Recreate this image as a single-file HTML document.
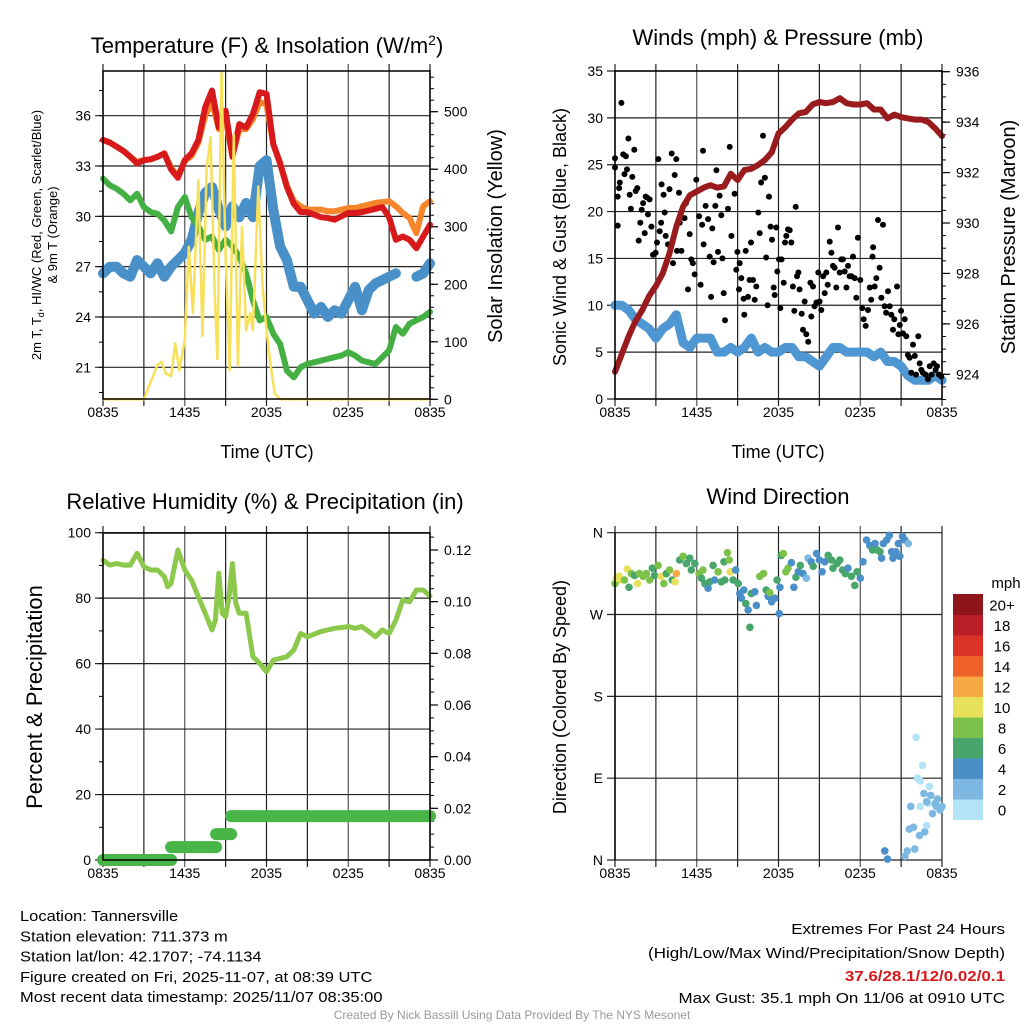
<!DOCTYPE html>
<html><head><meta charset="utf-8"><title>Tannersville Meteogram</title>
<style>
html,body{margin:0;padding:0;background:#fff;}
svg{display:block;font-family:"Liberation Sans",sans-serif;}
</style></head>
<body>
<svg id="chart" xmlns="http://www.w3.org/2000/svg" width="1024" height="1024" viewBox="0 0 1024 1024">
<rect x="0" y="0" width="1024" height="1024" fill="#fff"/>
</svg>
<script>
// ---------- DATA ----------
const xTickLabels = ['0835','1435','2035','0235','0835'];
const xTickHours = [0,6,12,18,24];
const halfHours = [0,0.5,1,1.5,2,2.5,3,3.5,4,4.5,5,5.5,6,6.5,7,7.5,8,8.5,9,9.5,10,10.5,11,11.5,12,12.5,13,13.5,14,14.5,15,15.5,16,16.5,17,17.5,18,18.5,19,19.5,20,20.5,21,21.5,22,22.5,23,23.5,24];
const tempRed = [34.55,34.4,34.15,33.9,33.55,33.15,33.35,33.4,33.55,33.75,32.8,32.3,33.35,33.75,34.55,36.5,37.5,35.3,36.3,33.55,35.5,35.3,36.1,37.4,37.3,34.3,33.15,31.75,30.75,30.25,30.25,30.1,29.95,29.9,29.8,30.0,30.2,30.2,30.25,30.35,30.45,30.55,29.95,28.6,28.8,28.6,28.1,28.8,29.5];
const tempOrange = [34.55,34.4,34.15,33.9,33.55,33.25,33.35,33.4,33.55,33.75,32.9,32.4,33.3,33.6,34.4,36.0,36.8,35.2,35.8,33.6,35.2,35.2,35.8,36.8,36.7,34.3,33.2,31.8,30.9,30.6,30.4,30.4,30.4,30.3,30.3,30.4,30.5,30.5,30.6,30.7,30.8,30.85,30.9,30.6,30.2,29.9,29.0,30.6,30.9];
const tempGreen = [32.25,31.85,31.65,31.35,30.95,31.35,30.55,30.25,30.15,29.75,29.1,30.55,31.15,29.95,29.4,28.6,28.8,28.0,28.6,28.2,27.6,26.6,25.0,23.8,24.0,23.0,22.4,20.8,20.4,21.0,21.2,21.3,21.4,21.5,21.6,21.7,21.9,21.7,21.4,21.3,21.2,21.6,22.0,23.4,23.0,23.6,23.8,24.0,24.3];
const tempBlue = [26.6,27.0,27.0,26.6,26.4,27.4,27.0,26.6,27.2,26.4,27.0,27.4,27.8,28.6,30.2,31.4,31.75,30.4,29.4,30.6,29.95,30.8,29.95,33.0,33.35,30.4,28.2,27.4,25.8,25.8,25.0,24.2,24.6,24.0,24.4,24.2,25.0,25.8,24.4,25.6,26.0,26.2,26.4,26.6,null,null,26.4,26.6,27.2];
const solarHours = [0,3,3.5,4,4.3,4.6,5,5.3,5.6,6,6.3,6.6,7,7.3,7.6,7.9,8.2,8.4,8.7,9,9.3,9.6,9.9,10.2,10.5,10.8,11,11.4,11.7,12,12.3,12.6,13,24];
const solarVals = [0,0,30,60,65,45,40,97,50,103,265,150,381,110,400,456,184,70,569,250,50,460,60,300,120,150,120,370,200,120,60,10,0,0];
const windSustained = [10,10,9.5,8.5,8,7.5,6.5,7.5,8,9,6,5.5,6.5,6.5,6.5,5,5,5.5,5,5.5,6.5,5,5.5,5,5,5.5,5.5,4.5,4.5,4,3.5,4.5,5.5,5.5,5,5,5,5,4.5,5,4,4,3.5,2.5,2,2,2,2.5,2];
const pressure = [924.1,924.8,925.5,926.1,926.55,927.1,927.5,928.0,928.8,929.85,930.65,931.1,931.25,931.4,931.5,931.4,931.45,931.95,931.7,932.1,932.15,932.3,932.5,932.8,933.55,933.8,934.1,934.35,934.4,934.7,934.8,934.75,934.8,934.95,934.75,934.7,934.7,934.75,934.5,934.5,934.15,934.3,934.2,934.15,934.1,934.1,934.0,933.75,933.45];
const gustHours = [0,0,0.2,0.3,0.35,0.2,0.47,0.6,0.8,0.7,0.88,0.98,1.08,1.17,1.27,1.42,1.52,1.64,1.74,1.86,1.96,2.06,2.18,2.25,2.35,2.42,2.54,2.67,2.79,2.98,3.08,3.18,3.28,3.38,3.42,3.57,3.65,3.72,3.89,4.0,4.16,4.26,4.38,4.5,4.55,4.7,4.75,4.87,5.1,5.2,5.36,5.48,5.6,5.72,5.85,5.97,6.17,6.28,6.39,6.46,6.5,6.65,6.83,6.95,7.05,7.14,7.24,7.36,7.44,7.56,7.68,7.8,7.88,7.98,8.07,8.29,8.42,8.54,8.78,8.9,8.98,9.1,9.15,9.27,9.44,9.49,9.59,9.76,9.88,9.98,10.13,10.25,10.37,10.52,10.62,10.72,10.86,11.0,11.1,11.2,11.3,11.42,11.52,11.65,11.72,11.84,11.91,12.04,12.13,12.23,12.38,12.48,12.57,12.7,12.82,12.94,13.06,13.16,13.26,13.36,13.46,13.55,13.7,13.8,13.92,14.04,14.18,14.34,14.41,14.53,14.65,14.78,14.92,15.02,15.14,15.27,15.39,15.51,15.61,15.76,15.88,16.0,16.12,16.24,16.37,16.49,16.6,16.73,16.86,16.98,17.1,17.22,17.35,17.47,17.59,17.71,17.83,18.0,18.15,18.25,18.4,18.57,18.7,18.8,18.9,18.94,19.06,19.18,19.3,19.42,19.55,19.67,19.79,19.9,20.04,20.16,20.28,20.4,20.5,20.7,20.8,20.9,21.0,21.14,21.26,21.38,21.5,21.63,21.75,21.87,22.0,22.1,22.26,22.36,22.48,22.6,22.8,22.97,23.1,23.24,23.39,23.53,23.63,23.78,23.95];
const gustVals = [24.7,25.7,18.5,22.5,23.1,21.6,31.6,26.1,25.9,24,24.5,27.8,21.8,20.3,23.7,26.6,22.2,22.5,16.9,18.8,20.2,20.9,17.7,21.6,21.5,19.7,21.3,18.4,15.4,15.6,16.7,25.6,17.9,18.8,22.9,21.8,19.9,17.4,16.5,22.4,26.2,14.5,23.9,25.6,15.8,22,18.8,15.8,19.3,20.9,11.7,17.6,14.9,14.5,13.3,23.4,19.5,12.2,18.6,26.5,16.5,20.6,19.2,15.2,10.9,18.2,14.6,20.6,24.4,15.7,21.7,19.6,15,11.3,8.4,20.3,26.9,17.4,21.9,13.8,15.7,11.7,14.5,12.9,10.7,9,15.8,10.9,12.7,16.7,12.7,10.6,12.0,19.9,17.7,23.1,28.1,23.6,15.1,10.0,21.6,18.4,17.0,11.9,11.1,18.3,13.6,14.9,9.7,14.9,12.4,16.7,17.4,18.1,18,16.7,12.0,9.4,20.5,13.1,13.5,11.7,9.1,7.4,10.4,6.9,6.1,12.4,8.8,12,9.9,10.3,13.5,10.4,9.5,13.1,11.3,13.5,12.2,16.8,15.6,14.2,14,11.9,18.3,13.5,14.9,14.9,13.6,11.9,14.2,13.1,13.1,15.2,12.9,10.8,17.2,12.7,9.7,8.5,7.8,9.5,11.9,10.6,15.2,16.2,12,12.9,19.1,14,10.8,18.6,9.9,9.2,11.5,9.9,9.0,7.4,8.5,12,6.9,7.9,9.4,7,8.5,6.7,4.7,4.4,2.8,5.8,4.6,2.6,6.7,3.8,3.1,2.8,2.6,2.1,3.5,2.6,3.8,3.1,3.5,2.6,2.4];
const rhHours = [0,0.5,1,1.5,2,2.5,3,3.5,4,4.5,4.75,5,5.5,6,6.5,7,7.5,8,8.25,8.5,8.75,9,9.25,9.5,9.75,10,10.5,11,11.5,12,12.5,13,13.5,14,14.5,15,16,17,18,18.5,19,19.5,20,20.5,21,21.5,22,22.5,23,23.5,24];
const rhVals = [91.6,90.1,90.6,90.1,90.1,93.7,89.6,88.6,88.6,86.6,83.5,84.5,94.7,88.6,85.5,80.4,75.4,70.3,73.3,87.6,75.4,74.3,80.4,90.6,78.4,75.4,75.4,62.1,60.1,57.5,61.1,61.6,62.1,64.2,69.2,68.2,69.8,70.8,71.3,70.8,71.3,69.8,68.2,70.3,69.2,73.3,79.4,78.9,82.5,82.5,80.7];
const precipStartHours = [0,5.0,8.3,9.4];
const precipVals = [0,0.005,0.01,0.017];
const precipEndHour = 24;
const dirHours = [0,0.1,0.3,0.47,0.7,0.9,1.03,1.2,1.44,1.66,1.8,2.06,2.3,2.55,2.74,2.9,3.16,3.4,3.58,3.77,4.0,4.2,4.4,4.5,4.75,5.0,5.24,5.49,5.6,5.86,6.17,6.35,6.46,6.6,6.83,6.96,7.2,7.3,7.57,7.8,8.0,8.06,8.25,8.38,8.47,8.67,8.86,9.04,9.16,9.28,9.45,9.6,9.77,9.9,10.0,10.26,10.38,10.63,10.9,11.1,11.24,11.36,11.5,11.73,11.9,12.05,12.1,12.2,12.35,12.54,12.7,12.95,13.13,13.28,13.45,13.6,13.8,14.05,14.17,14.4,14.55,14.8,15.0,15.2,15.4,15.65,15.9,16.0,16.3,16.5,16.7,16.9,17.1,17.35,17.6,17.77,18.0,18.2,18.46,18.7,18.9,19.08,19.25,19.45,19.57,19.7,19.94,20.13,20.3,20.4,20.62,20.8,20.9,21.1,21.28,21.53,19.8,20.0,21.28,21.45,21.7,21.9,21.6,22.0,22.1,22.2,22.4,22.35,22.57,22.67,22.74,22.87,23.0,23.07,23.17,23.3,23.5,23.66,23.85,24.0,23.6,22.4,22.87];
const dirDegrees = [304,310,312,308,308,320,300,315,313,304,315,312,315,308,321,313,324,312,304,315,319,308,306,315,330,334,326,332,319,326,315,310,319,304,299,306,324,308,317,306,328,308,338,330,317,308,319,304,293,288,297,282,275,256,293,295,280,312,315,297,290,294,284,288,308,271,300,335,337,317,321,327,300,311,317,324,315,310,332,328,323,337,330,317,328,335,330,321,326,330,319,315,321,312,302,317,310,328,352,346,341,348,341,339,332,348,352,357,339,332,339,348,334,356,352,348,10,1,4,10,59,36,34,12,135,90,59,27,104,73,31,38,62,81,71,51,62,67,55,59,59,87,64];
const dirSpeeds = [9,10,10,10,9,10,7,8,7,10,8,8,8,8,6,7,8,10,8,6,8,7,10,13,6,8,6,6,7,6,8,6,8,7,5,6,6,4,8,6,6,6,8,8,10,7,4,6,4,4,5,6,4,6,6,4,4,8,8,7,4,8,4,4,7,4,4,6,8,8,8,4,4,6,4,6,4,2,2,4,6,4,4,4,4,6,6,6,6,6,6,6,4,6,6,6,4,4,4,4,6,4,6,6,4,4,4,4,4,4,4,4,4,4,4,2,4,4,2,2,3,3,2,3,0,1,1,3,1,3,3,1,1,1,3,3,3,3,3,3,2,0,2];
const speedBinLabels = ['0','2','4','6','8','10','12','14','16','18','20+'];
const speedBinColors = ['#b3e3f6','#7db8e2','#4a8fc8','#48a66c','#7cc24a','#e6e05a','#f5a843','#ee6129','#dc3329','#ba1e26','#8e1519'];

// ---------- HELPERS ----------
const NS='http://www.w3.org/2000/svg';
const svg=document.getElementById('chart');
function mk(tag,attrs,parent){const e=document.createElementNS(NS,tag);for(const k in attrs)e.setAttribute(k,attrs[k]);(parent||svg).appendChild(e);return e;}
function txt(s,x,y,size,anchor,parent,extra){const t=mk('text',Object.assign({x:x,y:y,'font-size':size,'text-anchor':anchor||'middle',fill:'#000'},extra||{}),parent);t.textContent=s;return t;}
function linScale(d0,d1,r0,r1){return v=>r0+(v-d0)*(r1-r0)/(d1-d0);}
function pathFrom(xs,ys,sx,sy){let d='',pen=false;for(let i=0;i<xs.length;i++){if(ys[i]===null){pen=false;continue;}d+=(pen?'L':'M')+sx(xs[i]).toFixed(1)+' '+sy(ys[i]).toFixed(1);pen=true;}return d;}

function frame(g,P,sx){
  for(let h=0;h<=24;h+=3){
    const x=sx(h);
    const l=mk('line',{x1:x,y1:P.T-7,x2:x,y2:P.B+7,stroke:(h%6===0&&h%12!==0)?'#555':'#222','stroke-width':1.2},g);
    
    
  }
  xTickHours.forEach((h,i)=>{
    const t=txt(xTickLabels[i],sx(h),P.B+18,14,'middle',g);
    
    
  });
}
function border(g,P){
  const r=mk('rect',{x:P.L,y:P.T,width:P.R-P.L,height:P.B-P.T,fill:'none',stroke:'#000','stroke-width':1.5},g);
  
  
}
function leftAxis(g,P,ticks,labels,sy,minorStep,dmin,dmax,grid){
  ticks.forEach((v,i)=>{
    const y=sy(v);
    if(grid){const gl=mk('line',{x1:P.L-8,y1:y,x2:P.R,y2:y,stroke:'#222','stroke-width':1.2},g);
      
      }
    const t=txt(labels[i],P.L-12,y+5,14,'end',g);
    
    
  });
  if(minorStep){for(let v=dmin;v<=dmax+1e-9;v+=minorStep){const y=sy(v);if(y<P.T-1||y>P.B+1)continue;mk('line',{x1:P.L-4,y1:y,x2:P.L,y2:y,stroke:'#000','stroke-width':1},g);}}
}
function rightAxis(g,P,ticks,labels,sy,minorStep,dmin,dmax){
  ticks.forEach((v,i)=>{
    const y=sy(v);
    mk('line',{x1:P.R,y1:y,x2:P.R+8,y2:y,stroke:'#000','stroke-width':1.2},g);
    const t=txt(labels[i],P.R+14,y+5,14,'start',g);
    
    
  });
  if(minorStep){for(let v=dmin;v<=dmax+1e-9;v+=minorStep){const y=sy(v);if(y<P.T-1||y>P.B+1)continue;mk('line',{x1:P.R,y1:y,x2:P.R+4,y2:y,stroke:'#000','stroke-width':1},g);}}
}
function rotText(s,x,y,size,parent){const t=txt(s,x,y,size,'middle',parent,{transform:'rotate(-90 '+x+' '+y+')'});return t;}

// ---------- PANEL 1: Temperature ----------
(function(){
  const P={L:103,R:430,T:71,B:399};
  const g=mk('g',{});
  
  
  const sx=linScale(0,24,P.L,P.R);
  const sy=linScale(21,36,367.3,115.7);
  const ss=linScale(0,500,399.3,111.7);
  frame(g,P,sx);
  leftAxis(g,P,[21,24,27,30,33,36],['21','24','27','30','33','36'],sy,1.5,19.5,37.5,true);
  rightAxis(g,P,[0,100,200,300,400,500],['0','100','200','300','400','500'],ss,20,0,560);
  const series=[['temp-orange-9m',tempOrange,'#f5862c'],['temp-red-2m',tempRed,'#d7191c'],['dewpoint-blue',tempBlue,'#4a90c8'],['windchill-green',tempGreen,'#44b044']];
  series.forEach(s=>{
    const p=mk('path',{d:pathFrom(halfHours,s[1],sx,sy),fill:'none',stroke:s[2],'stroke-width':s[0]==='dewpoint-blue'?10:6,'stroke-linejoin':'round','stroke-linecap':'round'},g);
    
    
  });
  const sol=mk('path',{d:pathFrom(solarHours,solarVals,sx,ss),fill:'none',stroke:'#f7e05a','stroke-width':2.5,'stroke-linejoin':'round'},g);
  
  
  border(g,P);
  const t1=txt('',267,53,22,'middle',g);
  t1.innerHTML='Temperature (F) &amp; Insolation (W/m<tspan dy="-8" font-size="14">2</tspan><tspan dy="8">)</tspan>';
  
  
  const xt=txt('Time (UTC)',267,458,18,'middle',g);
  
  
  const yl=mk('text',{x:41,y:235,'font-size':13,'text-anchor':'middle',transform:'rotate(-90 41 235)'},g);
  yl.innerHTML='2m T, T<tspan dy="3" font-size="9">d</tspan><tspan dy="-3">, HI/WC (Red, Green, Scarlet/Blue)</tspan>';
  
  
  const yl2=rotText('& 9m T (Orange)',57,235,13,g);
  
  
  const yr=rotText('Solar Insolation (Yellow)',502,236,20,g);
  
  
})();

// ---------- PANEL 2: Winds ----------
(function(){
  const P={L:615,R:942,T:71,B:399};
  const g=mk('g',{});
  
  
  const sx=linScale(0,24,P.L,P.R);
  const sy=linScale(0,35,399,71);
  const sp=linScale(924,936,374.3,71.7);
  frame(g,P,sx);
  leftAxis(g,P,[0,5,10,15,20,25,30,35],['0','5','10','15','20','25','30','35'],sy,null,0,35,true);
  rightAxis(g,P,[924,926,928,930,932,934,936],['924','926','928','930','932','934','936'],sp,0.5,923,936);
  const w=mk('path',{d:pathFrom(halfHours,windSustained,sx,sy),fill:'none',stroke:'#4f97d2','stroke-width':9,'stroke-linejoin':'round','stroke-linecap':'round'},g);
  
  
  gustHours.forEach((h,i)=>{
    const c=mk('circle',{cx:sx(h).toFixed(1),cy:sy(gustVals[i]).toFixed(1),r:3,fill:'#000'},g);
    
    
  });
  const pr=mk('path',{d:pathFrom(halfHours,pressure,sx,sp),fill:'none',stroke:'#9a1b1e','stroke-width':6,'stroke-linejoin':'round','stroke-linecap':'round'},g);
  
  
  border(g,P);
  const t=txt('Winds (mph) & Pressure (mb)',778,45,22,'middle',g);
  
  
  const xt=txt('Time (UTC)',778,458,18,'middle',g);
  
  
  const yl=rotText('Sonic Wind & Gust (Blue, Black)',566,237,18,g);
  
  
  const yr=rotText('Station Pressure (Maroon)',1015,237,20,g);
  
  
})();

// ---------- PANEL 3: RH & Precip ----------
(function(){
  const P={L:103,R:430,T:533,B:860};
  const g=mk('g',{});
  
  
  const sx=linScale(0,24,P.L,P.R);
  const sy=linScale(0,100,860,532.7);
  const sp=linScale(0,0.12,860,550);
  frame(g,P,sx);
  leftAxis(g,P,[0,20,40,60,80,100],['0','20','40','60','80','100'],sy,10,0,100,true);
  rightAxis(g,P,[0,0.02,0.04,0.06,0.08,0.10,0.12],['0.00','0.02','0.04','0.06','0.08','0.10','0.12'],sp,0.005,0,0.125);
  const rh=mk('path',{d:pathFrom(rhHours,rhVals,sx,sy),fill:'none',stroke:'#8cc84b','stroke-width':5,'stroke-linejoin':'round','stroke-linecap':'round'},g);
  
  
  precipStartHours.forEach((h,i)=>{
    const h2=i<precipStartHours.length-1?precipStartHours[i+1]:precipEndHour;
    const s=mk('line',{x1:sx(h),y1:sp(precipVals[i]),x2:sx(h2),y2:sp(precipVals[i]),stroke:'#48b547','stroke-width':12,'stroke-linecap':'round'},g);
    
    
  });
  border(g,P);
  const t=txt('Relative Humidity (%) & Precipitation (in)',265,509,22,'middle',g);
  
  
  const yl=rotText('Percent & Precipitation',42,697,22,g);
  
  
})();

// ---------- PANEL 4: Wind Direction ----------
(function(){
  const P={L:615,R:942,T:533,B:860};
  const g=mk('g',{});
  
  
  const sx=linScale(0,24,P.L,P.R);
  const sy=linScale(0,360,860,532.7);
  frame(g,P,sx);
  leftAxis(g,P,[0,90,180,270,360],['N','E','S','W','N'],sy,null,0,360,true);
  dirHours.forEach((h,i)=>{
    const bin=Math.min(10,Math.floor(dirSpeeds[i]/2));
    const c=mk('circle',{cx:sx(h).toFixed(1),cy:sy(dirDegrees[i]).toFixed(1),r:3.8,fill:speedBinColors[bin]},g);
    
    
  });
  mk('line',{x1:P.L,y1:P.T,x2:P.L,y2:P.B,stroke:'#000','stroke-width':1.5},g);
  const t=txt('Wind Direction',778,504,22,'middle',g);
  
  
  const yl=rotText('Direction (Colored By Speed)',566,697,18,g);
  
  
  const lg=mk('g',{},g);
  
  
  const top=594,bh=20.5;
  speedBinLabels.forEach((lab,i)=>{
    const y=top+(10-i)*bh;
    const r=mk('rect',{x:953,y:y,width:30,height:bh+0.5,fill:speedBinColors[i]},lg);
    
    
    const tt=txt(lab,1002,y+bh/2+6,15,'middle',lg);
    
    
  });
  const u=txt('mph',1006,588,15,'middle',lg);
  
  
})();

// ---------- FOOTER TEXT ----------
(function(){
  const g=mk('g',{});
  
  
  const lines=['Location: Tannersville','Station elevation: 711.373 m','Station lat/lon: 42.1707; -74.1134','Figure created on Fri, 2025-11-07, at 08:39 UTC','Most recent data timestamp: 2025/11/07 08:35:00'];
  lines.forEach((s,i)=>{const t=txt(s,20,921+i*20.3,15,'start',g,{transform:'translate(20 0) scale(1.1 1) translate(-20 0)'});
    
    });
  const r=mk('g',{transform:'translate(1005 0) scale(1.13 1) translate(-1005 0)'});
  
  
  const a=txt('Extremes For Past 24 Hours',1005,934,15,'end',r);
  
  
  const b=txt('(High/Low/Max Wind/Precipitation/Snow Depth)',1005,958,15,'end',r);
  
  
  const c=txt('37.6/28.1/12/0.02/0.1',1005,981,15,'end',r,{fill:'#d7191c','font-weight':'bold'});
  
  
  const d=txt('Max Gust: 35.1 mph On 11/06 at 0910 UTC',1005,1003,15,'end',r);
  
  
  const f=txt('Created By Nick Bassill Using Data Provided By The NYS Mesonet',512,1019,12,'middle',null,{fill:'#999'});
  
  
})();
</script>
</body></html>
